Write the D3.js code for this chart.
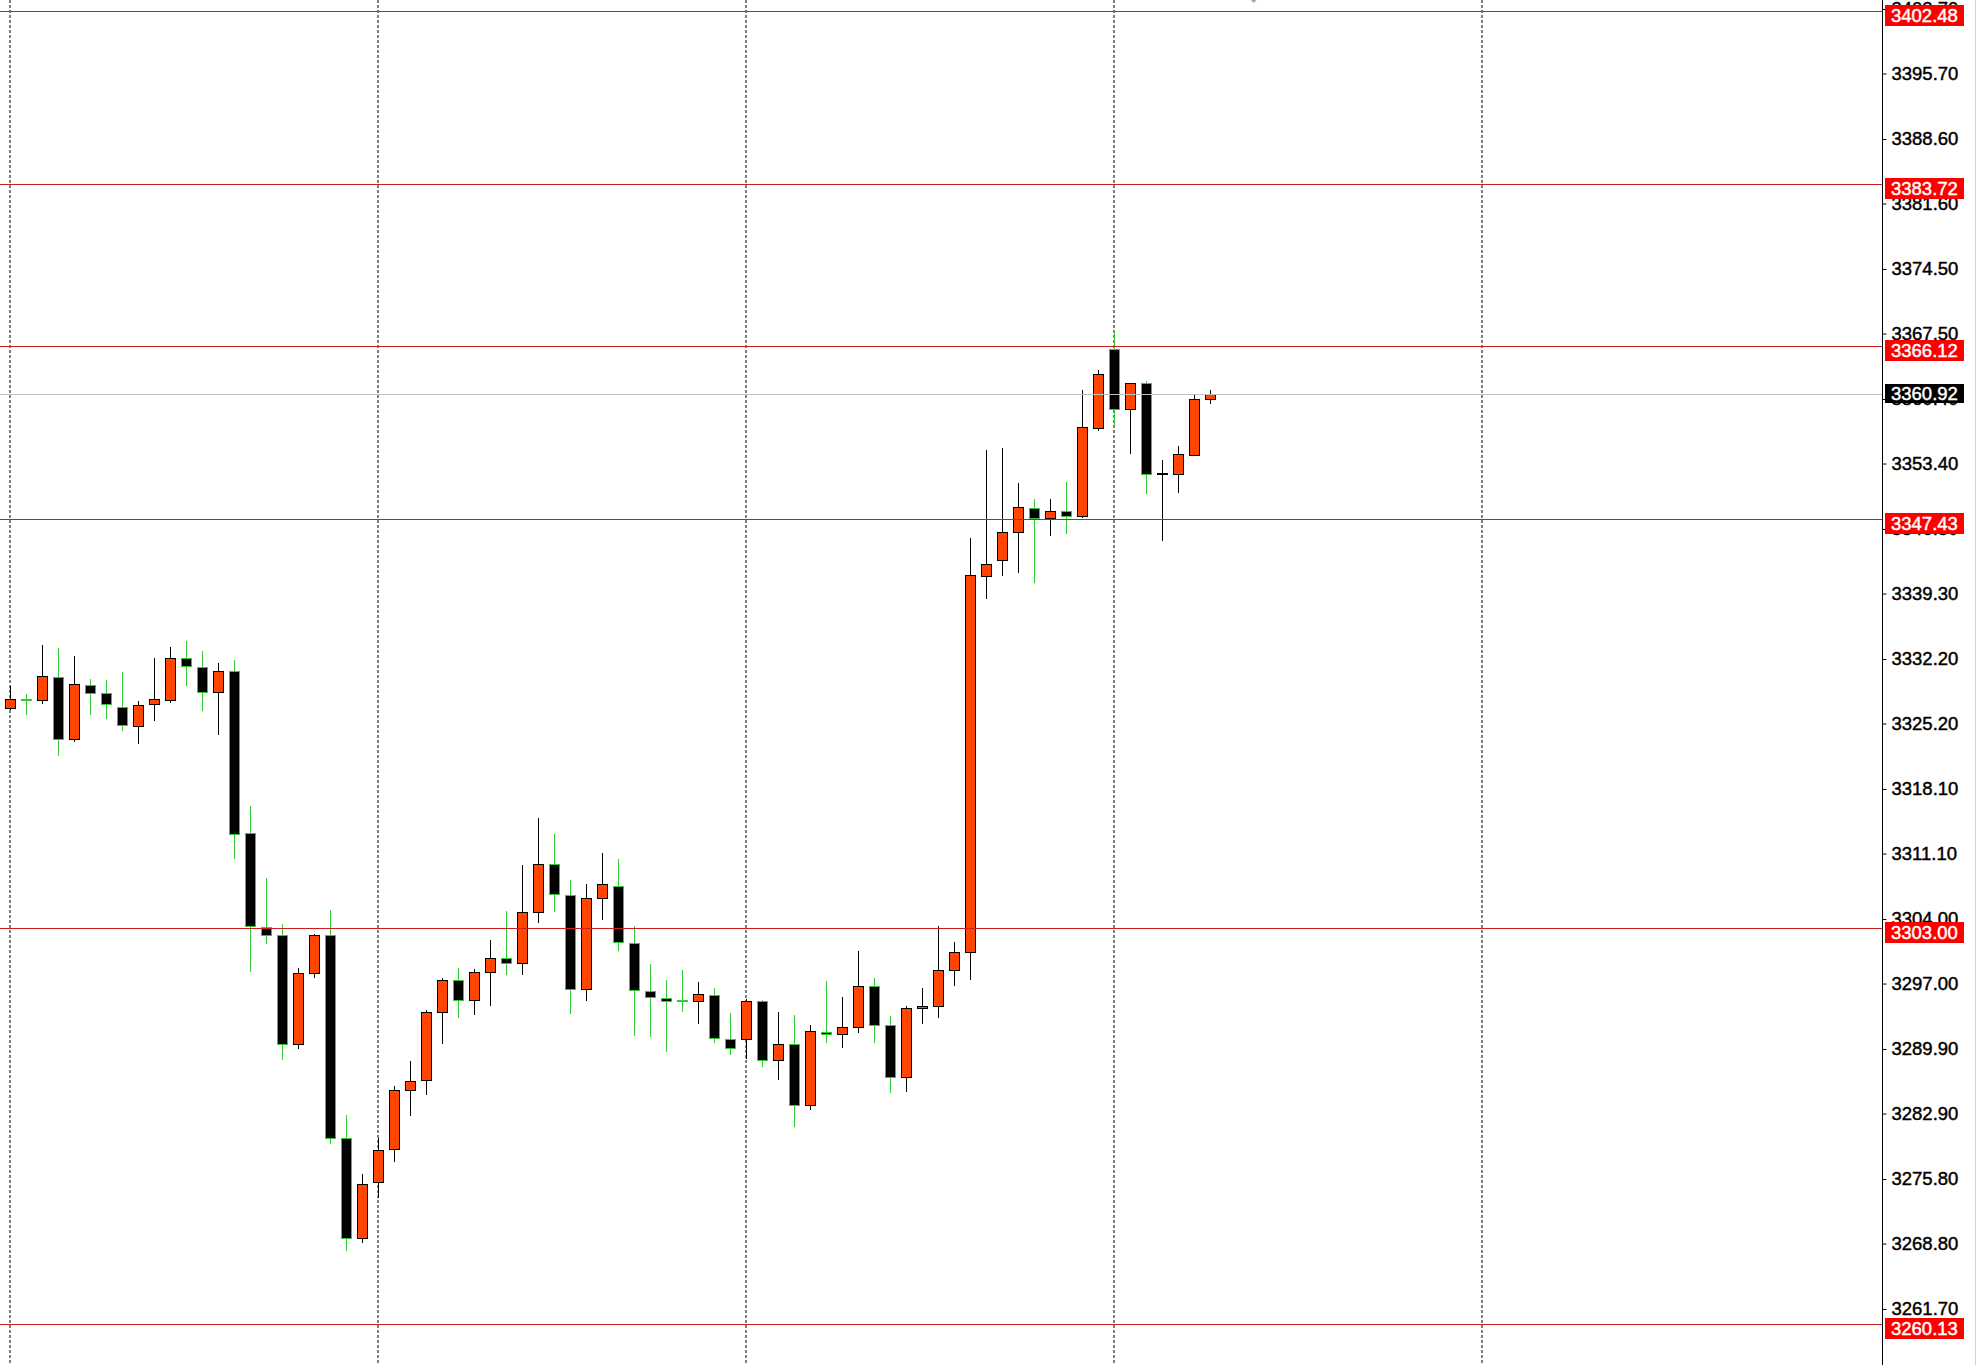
<!DOCTYPE html>
<html><head><meta charset="utf-8">
<script src="https://cdn.jsdelivr.net/npm/d3@7"></script>
<style>html,body{margin:0;padding:0;background:#fff;overflow:hidden}</style>
</head><body>
<svg id="chart" width="1977" height="1365"></svg>
<script>
// ---- data ----
const opens = [3326.85,3327.78,3327.72,3330.28,3323.49,3329.42,3328.48,3326.96,3324.97,3327.28,
  3327.79,3332.27,3331.30,3328.58,3330.86,3313.29,3303.17,3302.23,3290.41,3298.11,
  3302.23,3280.21,3269.36,3275.51,3279.01,3285.41,3286.50,3293.87,3297.34,3295.17,
  3298.21,3299.82,3299.19,3304.72,3309.92,3306.64,3296.38,3306.24,3307.62,3301.44,
  3296.23,3295.47,3295.06,3295.07,3295.80,3291.03,3290.95,3295.07,3288.67,3290.41,
  3283.83,3291.78,3291.49,3292.25,3296.70,3292.47,3286.83,3294.31,3294.53,3298.43,
  3300.38,3341.24,3342.90,3345.94,3348.62,3347.50,3348.29,3347.68,3357.29,3365.79,
  3359.28,3362.10,3352.28,3352.30,3354.36,3360.37];
const highs = [3329.27,3328.40,3333.72,3333.36,3332.53,3330.00,3329.89,3330.75,3327.65,3332.31,
  3333.50,3334.15,3333.07,3331.77,3332.09,3316.26,3308.45,3303.46,3298.65,3302.37,
  3304.98,3282.74,3276.34,3280.21,3285.88,3288.59,3294.12,3297.56,3298.64,3298.54,
  3301.72,3304.86,3309.85,3314.93,3313.21,3308.23,3307.80,3311.16,3310.51,3303.24,
  3299.12,3297.39,3298.47,3297.17,3296.48,3293.84,3295.30,3295.22,3293.92,3293.59,
  3292.47,3297.28,3295.54,3300.53,3297.57,3293.48,3294.53,3296.52,3303.24,3301.51,
  3345.28,3354.87,3355.09,3351.29,3349.56,3349.56,3351.40,3361.38,3363.55,3367.63,
  3362.10,3362.39,3353.75,3355.30,3360.94,3361.38];
const lows = [3326.80,3326.27,3327.39,3321.82,3323.34,3326.27,3325.84,3324.54,3323.13,3325.62,
  3327.57,3329.42,3326.70,3324.10,3310.65,3298.40,3301.36,3288.77,3289.97,3297.75,
  3279.66,3268.09,3269.00,3273.88,3277.78,3282.77,3285.05,3290.58,3293.40,3293.73,
  3294.70,3298.07,3298.07,3303.71,3304.90,3293.84,3295.25,3304.04,3300.68,3291.46,
  3291.35,3289.72,3294.06,3292.76,3290.63,3289.36,3288.96,3288.10,3286.61,3281.59,
  3283.43,3290.63,3290.16,3291.78,3290.63,3285.28,3285.38,3292.76,3293.34,3296.88,
  3297.53,3338.86,3341.31,3341.67,3340.59,3345.69,3345.90,3347.60,3357.08,3357.65,
  3354.58,3350.24,3345.15,3350.35,3354.29,3360.00];
const closes = [3327.83,3327.73,3330.32,3323.52,3329.45,3328.51,3327.28,3325.01,3327.18,3327.83,
  3332.27,3331.40,3328.58,3330.86,3313.18,3303.24,3302.27,3290.41,3298.11,3302.23,
  3280.21,3269.36,3275.22,3278.94,3285.41,3286.39,3293.87,3297.34,3295.17,3298.21,
  3299.73,3299.21,3304.72,3309.92,3306.70,3296.38,3306.24,3307.76,3301.47,3296.27,
  3295.51,3295.11,3295.02,3295.83,3291.06,3289.98,3295.07,3288.71,3290.41,3283.83,
  3291.86,3291.53,3292.25,3296.70,3292.47,3286.85,3294.31,3294.53,3298.43,3300.38,
  3341.27,3342.47,3345.94,3348.65,3347.50,3348.22,3347.68,3357.33,3363.08,3359.28,
  3362.10,3352.23,3352.32,3354.40,3360.37,3360.92];
const levelLines = [3402.48, 3383.72, 3366.12, 3347.43, 3303.00, 3260.13];
const lastPrice = 3360.92;
const priceTicks = [3402.70,3395.70,3388.60,3381.60,3374.50,3367.50,3360.40,3353.40,3346.30,
  3339.30,3332.20,3325.20,3318.10,3311.10,3304.00,3297.00,3289.90,3282.90,3275.80,3268.80,3261.70];
const gridBars = [0, 23, 46, 69, 92];
const shiftMarkerBar = 77.7;

// ---- layout ----
const W = 1977, H = 1365, axisX = 1882.5;
const FONT = "'Liberation Sans', Arial, sans-serif";
const BULL_FILL = "#FF4500", BULL_LINE = "#000000";
const BEAR_FILL = "#000000", BEAR_LINE = "#32CD32";

const svg = d3.select("#chart");
const y = d3.scaleLinear().domain([3260.13, 3402.48]).range([1323.5, 11]);
const x = d3.scaleLinear().domain([0, 92]).range([10.5, 10.5 + 16 * 92]);
const py = v => Math.round(y(v)) + 0.5;

svg.append("rect").attr("width", W).attr("height", H).attr("fill", "#fff");

// vertical dashed grid
svg.append("g").selectAll("line").data(gridBars).join("line")
  .attr("x1", d => x(d) - 0.5).attr("x2", d => x(d) - 0.5)
  .attr("y1", 0).attr("y2", H)
  .attr("stroke", "#000").attr("stroke-width", 1).attr("stroke-dasharray", "3,2");

// candles
const bars = d3.range(opens.length).map(i => ({
  i, o: opens[i], h: highs[i], l: lows[i], c: closes[i]
}));
const cg = svg.append("g");
bars.forEach(b => {
  const bull = b.c >= b.o;
  const lineCol = bull ? BULL_LINE : BEAR_LINE;
  const fillCol = bull ? BULL_FILL : BEAR_FILL;
  const cx = x(b.i);
  cg.append("line").attr("x1", cx).attr("x2", cx)
    .attr("y1", Math.round(y(b.h))).attr("y2", Math.round(y(b.l)) + 1)
    .attr("stroke", lineCol).attr("stroke-width", 1);
  const top = py(Math.max(b.o, b.c)), bot = py(Math.min(b.o, b.c));
  if (bot - top < 1.5) {
    cg.append("line").attr("x1", cx - 5.5).attr("x2", cx + 5.5)
      .attr("y1", Math.round(y(b.o))).attr("y2", Math.round(y(b.o)))
      .attr("stroke", lineCol).attr("stroke-width", 2);
  } else {
    cg.append("rect").attr("x", cx - 5).attr("width", 10)
      .attr("y", top).attr("height", bot - top)
      .attr("fill", fillCol).attr("stroke", lineCol).attr("stroke-width", 1);
  }
});

// horizontal level lines
svg.append("g").selectAll("line").data(levelLines).join("line")
  .attr("x1", 0).attr("x2", axisX).attr("y1", d => py(d)).attr("y2", d => py(d))
  .attr("stroke", "#c81e1e").attr("stroke-width", 1);
svg.append("line").attr("x1", 0).attr("x2", axisX)
  .attr("y1", py(lastPrice)).attr("y2", py(lastPrice))
  .attr("stroke", "#c0c0c0").attr("stroke-width", 1);

// chart shift marker
const mx = x(shiftMarkerBar);
svg.append("path").attr("d", `M${mx - 3},0 L${mx + 3},0 L${mx},3 Z`).attr("fill", "#a8a8a8");

// price axis
svg.append("line").attr("x1", axisX).attr("x2", axisX).attr("y1", 0).attr("y2", H)
  .attr("stroke", "#000").attr("stroke-width", 1);
svg.append("line").attr("x1", 1975.5).attr("x2", 1975.5).attr("y1", 0).attr("y2", H)
  .attr("stroke", "#d0d0d0").attr("stroke-width", 1);
const axis = d3.axisRight(y).tickValues(priceTicks).tickFormat(d3.format(".2f"))
  .tickSize(4).tickPadding(5);
const ag = svg.append("g").attr("transform", `translate(${axisX},0)`).call(axis);
ag.select(".domain").remove();
ag.selectAll(".tick line").attr("stroke", "#000");
ag.selectAll(".tick text").attr("fill", "#000")
  .attr("stroke", "#000").attr("stroke-width", 0.45)
  .style("font-family", FONT).style("font-size", "18.5px");

// price labels
const lg = svg.append("g");
levelLines.forEach(v => {
  const ly = Math.round(y(v));
  lg.append("rect").attr("x", 1885).attr("width", 79).attr("y", ly - 6).attr("height", 21).attr("fill", "#ff0000");
  lg.append("text").attr("x", 1891).attr("y", ly + 4.5).attr("dy", "0.35em")
    .attr("fill", "#fff").attr("stroke", "#fff").attr("stroke-width", 0.45)
    .style("font-family", FONT).style("font-size", "18.5px").text(v.toFixed(2));
});
{
  const ly = Math.round(y(lastPrice));
  lg.append("rect").attr("x", 1885).attr("width", 79).attr("y", ly - 10).attr("height", 19).attr("fill", "#000");
  lg.append("text").attr("x", 1891).attr("y", ly - 0.5).attr("dy", "0.35em")
    .attr("fill", "#fff").attr("stroke", "#fff").attr("stroke-width", 0.45)
    .style("font-family", FONT).style("font-size", "18.5px").text(lastPrice.toFixed(2));
}
</script>
</body></html>
